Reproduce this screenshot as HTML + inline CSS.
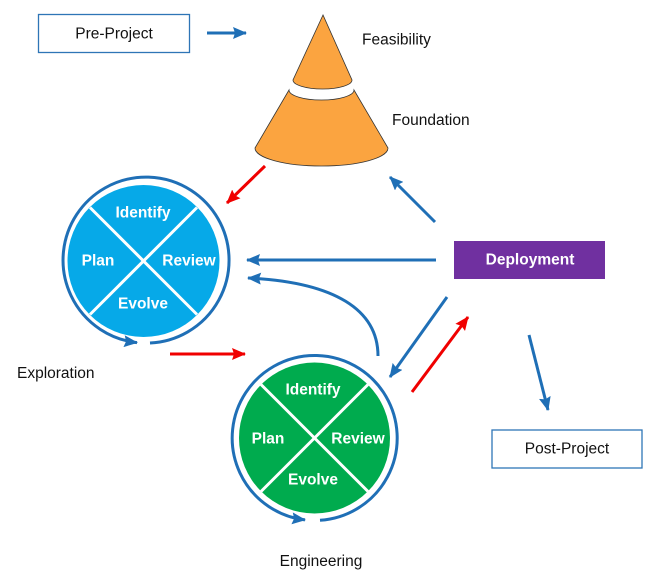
<!DOCTYPE html>
<html><head><meta charset="utf-8"><style>
html,body{margin:0;padding:0;background:#fff;}
svg{display:block;}
text{font-family:"Liberation Sans",Arial,sans-serif;}
.l{font-size:15.5px;fill:#111;}
.w{font-size:15.5px;fill:#fff;font-weight:bold;}
</style></head><body>
<svg width="662" height="578" viewBox="0 0 662 578" xmlns="http://www.w3.org/2000/svg">
<defs>
<marker id="ab" markerUnits="userSpaceOnUse" markerWidth="14" markerHeight="12" refX="13" refY="6" orient="auto"><path d="M0,0 L14,6 L0,12 L2,6 Z" fill="#1F6FB6"/></marker>
<marker id="ar" markerUnits="userSpaceOnUse" markerWidth="14" markerHeight="12" refX="13" refY="6" orient="auto"><path d="M0,0 L14,6 L0,12 L2,6 Z" fill="#F00000"/></marker>
</defs>

<!-- Pre-Project -->
<rect x="38.5" y="14.5" width="151" height="38" fill="#fff" stroke="#2E75B6" stroke-width="1.3"/>
<text class="l" x="114" y="38.5" text-anchor="middle">Pre-Project</text>
<line x1="207" y1="33" x2="246" y2="33" stroke="#1F6FB6" stroke-width="3" marker-end="url(#ab)"/>

<!-- Cone -->
<path d="M323,15 L293,80 A29.5,9 0 0 0 352,80 Z" fill="#FBA440" stroke="#333" stroke-width="0.8"/>
<path d="M289,90 A32.5,10 0 0 0 354,90 L388,148 A66.5,18 0 0 1 255,148 Z" fill="#FBA440" stroke="#333" stroke-width="0.8"/>
<text class="l" x="362" y="44.5">Feasibility</text>
<text class="l" x="392" y="125">Foundation</text>

<!-- Exploration circle -->
<circle cx="143.5" cy="261" r="76" fill="#06A9E8"/>
<line x1="90" y1="207.5" x2="197" y2="314.5" stroke="#fff" stroke-width="3"/>
<line x1="197" y1="207.5" x2="90" y2="314.5" stroke="#fff" stroke-width="3"/>
<path d="M150,343 A83,83 0 1 0 137,342.6" fill="none" stroke="#1F6FB6" stroke-width="3" marker-end="url(#ab)"/>
<text class="w" x="143" y="217.5" text-anchor="middle">Identify</text>
<text class="w" x="98" y="265.5" text-anchor="middle">Plan</text>
<text class="w" x="189" y="265.5" text-anchor="middle">Review</text>
<text class="w" x="143" y="308.5" text-anchor="middle">Evolve</text>
<text class="l" x="17" y="378">Exploration</text>

<!-- Engineering circle -->
<circle cx="314.5" cy="438" r="75.5" fill="#00AB4E"/>
<line x1="261" y1="384.5" x2="368" y2="491.5" stroke="#fff" stroke-width="3"/>
<line x1="368" y1="384.5" x2="261" y2="491.5" stroke="#fff" stroke-width="3"/>
<path d="M320,520.3 A82.5,82.5 0 1 0 305,519.9" fill="none" stroke="#1F6FB6" stroke-width="3" marker-end="url(#ab)"/>
<text class="w" x="313" y="394.5" text-anchor="middle">Identify</text>
<text class="w" x="268" y="443.5" text-anchor="middle">Plan</text>
<text class="w" x="358" y="443.5" text-anchor="middle">Review</text>
<text class="w" x="313" y="484.5" text-anchor="middle">Evolve</text>
<text class="l" x="321" y="566" text-anchor="middle">Engineering</text>

<!-- curved feedback arrow -->
<path d="M378,356 C378,310 335,282 248,278" fill="none" stroke="#1F6FB6" stroke-width="3" marker-end="url(#ab)"/>

<!-- Deployment -->
<rect x="454" y="241" width="151" height="38" fill="#7030A0"/>
<text x="530" y="264.5" text-anchor="middle" style="font-size:15.5px;font-weight:bold;fill:#fff;">Deployment</text>

<line x1="435" y1="222" x2="390" y2="177" stroke="#1F6FB6" stroke-width="3" marker-end="url(#ab)"/>
<line x1="436" y1="260" x2="247" y2="260" stroke="#1F6FB6" stroke-width="3" marker-end="url(#ab)"/>
<line x1="447" y1="297" x2="390" y2="377" stroke="#1F6FB6" stroke-width="3" marker-end="url(#ab)"/>
<line x1="412" y1="392" x2="468" y2="317" stroke="#F00000" stroke-width="3" marker-end="url(#ar)"/>
<line x1="529" y1="335" x2="548" y2="410" stroke="#1F6FB6" stroke-width="3" marker-end="url(#ab)"/>

<!-- red arrows -->
<line x1="265" y1="166" x2="227" y2="203" stroke="#F00000" stroke-width="3" marker-end="url(#ar)"/>
<line x1="170" y1="354" x2="245" y2="354" stroke="#F00000" stroke-width="3" marker-end="url(#ar)"/>

<!-- Post-Project -->
<rect x="492" y="430" width="150" height="38" fill="#fff" stroke="#2E75B6" stroke-width="1.3"/>
<text class="l" x="567" y="453.5" text-anchor="middle">Post-Project</text>
</svg>
</body></html>
